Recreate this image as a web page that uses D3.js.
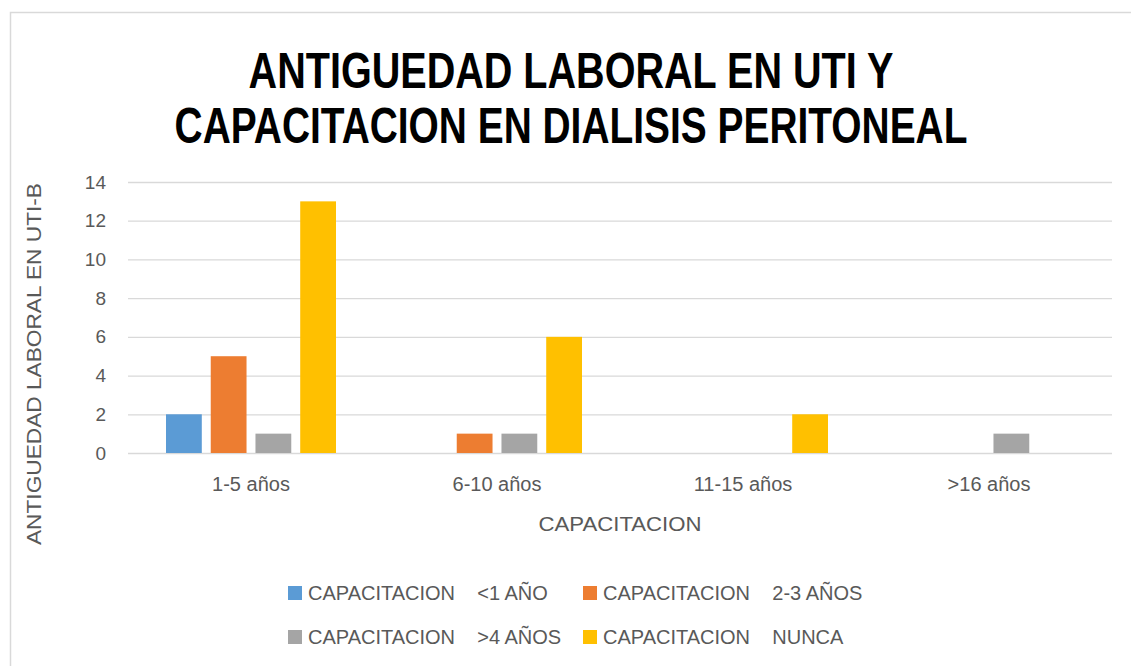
<!DOCTYPE html>
<html><head><meta charset="utf-8">
<script src="https://cdn.jsdelivr.net/npm/d3@7"></script>
<style>body{margin:0;background:#fff}svg{display:block}</style>
</head><body>
<svg id="c" width="1131" height="666"></svg>
<script>
const categories = ["1-5 años", "6-10 años", "11-15 años", ">16 años"];
const seriesNames = ["CAPACITACION    <1 AÑO", "CAPACITACION    2-3 AÑOS", "CAPACITACION    >4 AÑOS", "CAPACITACION    NUNCA"];
const s1 = [2, 0, 0, 0];
const s2 = [5, 1, 0, 0];
const s3 = [1, 1, 0, 1];
const s4 = [13, 6, 2, 0];
const yTicks = [0, 2, 4, 6, 8, 10, 12, 14];
const colors = ["#5B9BD5", "#ED7D31", "#A5A5A5", "#FFC000"];
const titleLines = ["ANTIGUEDAD LABORAL EN UTI Y", "CAPACITACION EN DIALISIS PERITONEAL"];
const yTitle = "ANTIGUEDAD LABORAL EN UTI-B";
const xTitle = "CAPACITACION";

const series = [s1, s2, s3, s4];
const svg = d3.select("#c");
const font = "Liberation Sans, Arial, sans-serif";
const txt = "#595959";

svg.append("rect").attr("x", 10.5).attr("y", 12.5).attr("width", 1130).attr("height", 660)
  .attr("fill", "none").attr("stroke", "#d9d9d9").attr("stroke-width", 1.5);

// title: compress horizontally to mimic a condensed bold face
const tl = [{t: titleLines[0], y: 88, w: 645}, {t: titleLines[1], y: 143, w: 793}];
tl.forEach(d => {
  const t = svg.append("text").attr("text-anchor", "middle")
    .attr("font-family", font).attr("font-weight", "bold").attr("font-size", 50)
    .attr("fill", "#000").text(d.t);
  const nat = t.node().getComputedTextLength();
  const k = d.w / nat;
  t.attr("transform", `translate(571,${d.y}) scale(${k},1)`);
});

const x0 = d3.scaleBand().domain(categories).range([128, 1112]).paddingInner(0).paddingOuter(0);
const x1 = d3.scaleBand().domain(d3.range(4)).range([38, x0.bandwidth() - 38]).paddingInner(0.2).paddingOuter(0);
const y = d3.scaleLinear().domain([0, 14]).range([453, 182]);

// gridlines
const yAxis = d3.axisLeft(y).tickValues(yTicks).tickSize(-(1112 - 128)).tickPadding(22);
const ga = svg.append("g").attr("transform", "translate(128,0)").call(yAxis);
ga.select(".domain").remove();
ga.selectAll(".tick line").attr("stroke", "#d9d9d9").attr("stroke-width", 1.3);
ga.selectAll(".tick text").attr("font-family", font).attr("font-size", 19).attr("fill", txt);

// bars
const g = svg.append("g");
categories.forEach((c, ci) => {
  series.forEach((s, si) => {
    const v = s[ci];
    if (v > 0) {
      g.append("rect")
        .attr("x", x0(c) + x1(si)).attr("y", y(v))
        .attr("width", x1.bandwidth()).attr("height", y(0) - y(v))
        .attr("fill", colors[si]);
    }
  });
});

// x axis labels
const xAxis = d3.axisBottom(x0).tickSize(0).tickPadding(24);
const gx = svg.append("g").attr("transform", "translate(0,453)").call(xAxis);
gx.select(".domain").remove();
gx.selectAll(".tick text").attr("font-family", font).attr("font-size", 20).attr("fill", txt);

// axis titles
svg.append("text").attr("x", 620).attr("y", 531).attr("text-anchor", "middle")
  .attr("font-family", font).attr("font-size", 21).attr("fill", txt)
  .attr("textLength", 163).attr("lengthAdjust", "spacingAndGlyphs").text(xTitle);
svg.append("text").attr("transform", "translate(41,364) rotate(-90)").attr("text-anchor", "middle")
  .attr("font-family", font).attr("font-size", 21).attr("fill", txt)
  .attr("textLength", 362).attr("lengthAdjust", "spacingAndGlyphs").text(yTitle);

// legend
const legPos = [{x: 288, y: 586}, {x: 583, y: 586}, {x: 288, y: 630}, {x: 583, y: 630}];
const lg = svg.append("g");
seriesNames.forEach((n, i) => {
  lg.append("rect").attr("x", legPos[i].x).attr("y", legPos[i].y).attr("width", 14).attr("height", 14).attr("fill", colors[i]);
  lg.append("text").attr("x", legPos[i].x + 20).attr("y", legPos[i].y + 14)
    .attr("font-family", font).attr("font-size", 20).attr("fill", txt)
    .attr("xml:space", "preserve").style("white-space", "pre").text(n);
});
</script>
</body></html>
